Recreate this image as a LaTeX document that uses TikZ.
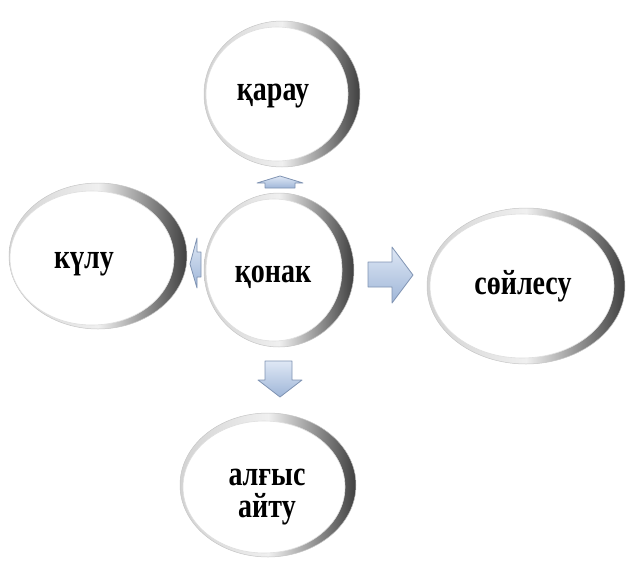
\documentclass[tikz,border=0pt]{standalone}
\usepackage{fontspec}
\setmainfont{Liberation Serif}
\usetikzlibrary{shapes.geometric,calc}
\definecolor{arrfill}{HTML}{C9D8EE}
\definecolor{arrdark}{HTML}{9FB6D8}
\definecolor{arrline}{HTML}{7F93B2}
\tikzset{
  inner disk/.style={fill=white, draw=gray!25, line width=0.6pt},
  lbl/.style={ellipse, inner sep=0pt, font=\bfseries\fontsize{28}{29}\selectfont},
  rim/.style={left color=gray!35, right color=black!75, middle color=gray!12},
  rim edge/.style={draw=gray!45, line width=0.5pt},
  blockarrow/.style={top color=arrfill!60!white, bottom color=arrdark, draw=arrline, line width=0.8pt, line join=round},
}
% name, cx, cy, rx, ry, dx, dy, text position, text
\newcommand{\bubble}[9]{%
  \shade[rim] (#2,#3) ellipse [x radius=#4pt, y radius=#5pt];
  \draw[rim edge] (#2,#3) ellipse [x radius=#4pt, y radius=#5pt];
  \path[inner disk] ($(#2,#3)+(#6,#7)$) ellipse [x radius={#4pt-7pt}, y radius={#5pt-6pt}];
  \node[lbl] (#1) at (#8) {\scalebox{1}[1.25]{\begin{tabular}{@{}c@{}}#9\end{tabular}}};
}
\begin{document}
\begin{tikzpicture}[x=1pt,y=-1pt]
\useasboundingbox (0,0) rectangle (627,563);
\bubble{karau}{282}{94}{78}{73}{-5}{0}{273,93}{қарау}
\bubble{kulu}{98}{256}{89}{73}{-6}{2}{84,261}{күлу}
\bubble{konak}{279}{270}{75}{77}{-5}{0}{273,275}{қонак}
\bubble{soilesu}{526}{286}{99}{78}{-4}{0}{523,287}{сөйлесу}
\bubble{algys}{268}{485}{88}{72}{-4}{2}{267,494}{алғыс\\[-3pt]айту}
% up
\path[blockarrow] (280,176) -- (303,183) -- (295,183) -- (295,188) -- (265,188) -- (265,183) -- (257,183) -- cycle;
% down
\path[blockarrow] (265,361) -- (292,361) -- (292,380) -- (302,380) -- (280,397) -- (258,380) -- (265,380) -- cycle;
% right
\path[blockarrow] (368,262) -- (392,262) -- (392,247) -- (413,275) -- (392,303) -- (392,287) -- (368,287) -- cycle;
% left
\path[blockarrow] (201,252) -- (197,252) -- (197,238) -- (190,264) -- (197,288) -- (197,277) -- (201,277) -- cycle;
\end{tikzpicture}
\end{document}
